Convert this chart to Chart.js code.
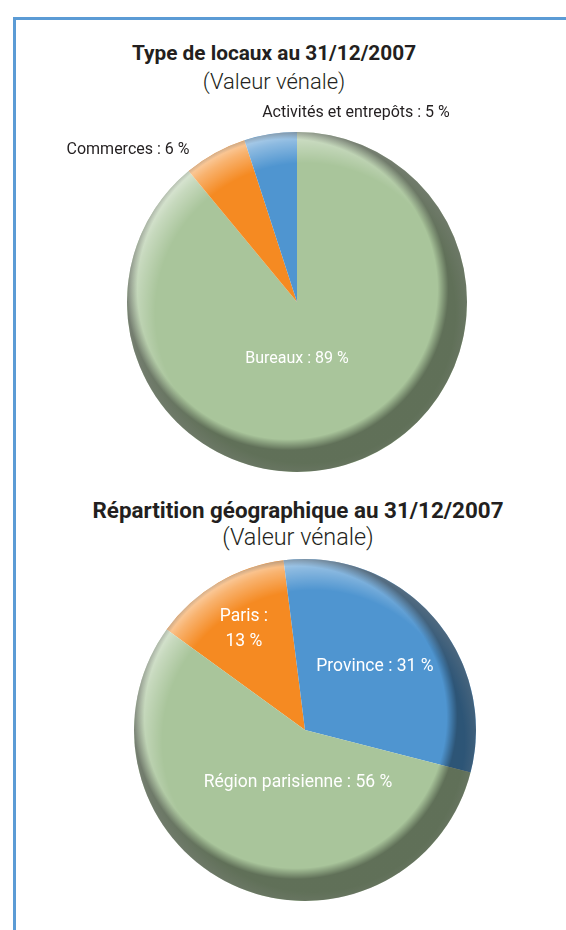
<!DOCTYPE html>
<html>
<head>
<meta charset="utf-8">
<script src="https://cdn.jsdelivr.net/npm/chart.js@4.4.1/dist/chart.umd.min.js"></script>
<style>
  html, body { margin: 0; padding: 0; background: #fff; }
  body { width: 566px; height: 930px; position: relative; overflow: hidden; font-family: Roboto, "Open Sans", sans-serif; }
  .frame { position: absolute; left: 13px; top: 17px; width: 700px; height: 1000px; border-left: 3px solid #5b9bd5; border-top: 3px solid #5b9bd5; }
  .ttl { position: absolute; text-align: center; color: #231f20; white-space: nowrap; line-height: 26px; }
  .ttl b { font-weight: 700; }
  .ttl span { font-weight: 300; }
  .box { position: absolute; left: 0; width: 566px; }
</style>
</head>
<body>
<div class="frame"></div>

<div class="ttl" style="left:0;width:548px;top:40px"><b style="font-size:20.8px">Type de locaux au 31/12/2007</b></div>
<div class="ttl" style="left:0;width:548px;top:69px"><span style="font-size:22px">(Valeur vénale)</span></div>
<div class="box" style="top:90px;height:384px"><canvas id="pieLocaux"></canvas></div>

<div class="ttl" style="left:50px;width:496px;top:497px"><b style="font-size:22.4px">Répartition géographique au 31/12/2007</b></div>
<div class="ttl" style="left:50px;width:496px;top:524px"><span style="font-size:23.4px">(Valeur vénale)</span></div>
<div class="box" style="top:555px;height:375px"><canvas id="pieGeo"></canvas></div>

<script>
// chart 1 : type de locaux (%)
var locauxLabels = ['Bureaux', 'Commerces', 'Activités et entrepôts'];
var locauxValues = [89, 6, 5];
// chart 2 : répartition géographique (%)
var geoLabels = ['Paris', 'Province', 'Région parisienne'];
var geoValues = [13, 31, 56];

var GREEN = '#a9c59b', ORANGE = '#f58a22', BLUE = '#4f95d0';

// 3D look: light rim on the upper left, dark crescent on the lower right
var shadePlugin = {
    id: 'shade',
    afterDatasetsDraw: function(chart) {
        var arc = chart.getDatasetMeta(0).data[0];
        var x = arc.x, y = arc.y, r = arc.outerRadius;
        var ctx = chart.ctx;
        ctx.save();
        ctx.beginPath();
        ctx.arc(x, y, r, 0, Math.PI * 2);
        ctx.clip();

        var e = 14;
        var hx = x + e * 0.6, hy = y + e * 0.8, hr = r + e;
        var g = ctx.createRadialGradient(hx, hy, 0, hx, hy, hr);
        g.addColorStop(0, 'rgba(255,255,255,0)');
        g.addColorStop((hr - 34) / hr, 'rgba(255,255,255,0)');
        g.addColorStop((hr - 12) / hr, 'rgba(255,255,255,0.35)');
        g.addColorStop(1, 'rgba(255,255,255,0.6)');
        ctx.fillStyle = g;
        ctx.fillRect(x - r, y - r, 2 * r, 2 * r);

        var d = 16;
        var sx = x - d * 0.6, sy = y - d * 0.8, sr = r + d;
        var ri = r - d + 6;
        var s = ctx.createRadialGradient(sx, sy, 0, sx, sy, sr);
        s.addColorStop(0, 'rgba(0,0,0,0)');
        s.addColorStop((ri - 10) / sr, 'rgba(0,0,0,0)');
        s.addColorStop((ri + 1) / sr, 'rgba(0,0,0,0.43)');
        s.addColorStop(1, 'rgba(0,0,0,0.43)');
        ctx.fillStyle = s;
        ctx.fillRect(x - r, y - r, 2 * r, 2 * r);
        ctx.restore();
    }
};

// slice labels, placed relative to the pie centre in radius units
var sliceLabelPlugin = {
    id: 'sliceLabels',
    afterDraw: function(chart, args, opts) {
        var arc = chart.getDatasetMeta(0).data[0];
        var r = arc.outerRadius;
        var ctx = chart.ctx;
        var labels = chart.data.labels;
        var values = chart.data.datasets[0].data;
        ctx.save();
        ctx.font = '400 ' + opts.size + 'px Roboto';
        ctx.textAlign = 'center';
        ctx.textBaseline = 'middle';
        labels.forEach(function(lab, i) {
            var pos = opts.pos[i];
            var cx = arc.x + pos[0] * r, cy = arc.y + pos[1] * r;
            ctx.fillStyle = opts.colors[i];
            if (opts.split[i]) {
                ctx.fillText(lab + ' :', cx, cy - 12.5);
                ctx.fillText(values[i] + ' %', cx, cy + 12.5);
            } else {
                ctx.fillText(lab + ' : ' + values[i] + ' %', cx, cy);
            }
        });
        ctx.restore();
    }
};

function makePie(id, labels, values, colors, rotation, pad, labelOpts) {
    return new Chart(document.getElementById(id).getContext('2d'), {
        type: 'pie',
        data: {
            labels: labels,
            datasets: [{
                data: values,
                backgroundColor: colors,
                borderWidth: 0,
                hoverOffset: 0,
                offset: 0
            }]
        },
        options: {
            responsive: true,
            maintainAspectRatio: false,
            animation: false,
            events: [],
            rotation: rotation,
            layout: { padding: pad },
            plugins: {
                legend: { display: false },
                tooltip: { enabled: false },
                sliceLabels: labelOpts
            }
        },
        plugins: [shadePlugin, sliceLabelPlugin]
    });
}

var pieLocaux = makePie('pieLocaux', locauxLabels, locauxValues, [GREEN, ORANGE, BLUE], 0,
    { top: 42, bottom: 2, left: 28, right: 0 },
    {
        size: 16,
        pos: [[0, 0.335], [-0.994, -0.894], [0.347, -1.112]],
        colors: ['#ffffff', '#231f20', '#231f20'],
        split: [false, false, false]
    });

var pieGeo = makePie('pieGeo', geoLabels, geoValues, [ORANGE, BLUE, GREEN], -54,
    { top: 4, bottom: 29, left: 44, right: 0 },
    {
        size: 17.5,
        pos: [[-0.357, -0.588], [0.409, -0.368], [-0.041, 0.31]],
        colors: ['#ffffff', '#ffffff', '#ffffff'],
        split: [true, false, false]
    });
</script>
</body>
</html>
